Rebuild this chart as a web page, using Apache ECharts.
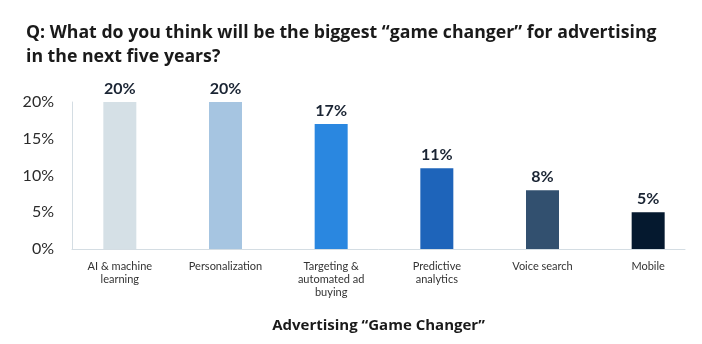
<!DOCTYPE html>
<html>
<head>
<meta charset="utf-8">
<script src="https://cdn.jsdelivr.net/npm/echarts@6/dist/echarts.min.js"></script>
<style>
  html, body { margin: 0; padding: 0; background: #fff; }
  #chart { width: 702px; height: 344px; }
</style>
</head>
<body>
<div id="chart"></div>
<script>
// Survey answers and their shares (percent)
const categories = [
  'AI & machine\nlearning',
  'Personalization',
  'Targeting &\nautomated ad\nbuying',
  'Predictive\nanalytics',
  'Voice search',
  'Mobile'
];
const shares = [20, 20, 17, 11, 8, 5];
const barColors = ['#d5e0e6', '#a6c5e1', '#2a87e0', '#1e64ba', '#32506f', '#05192f'];
const yTicks = [0, 5, 10, 15, 20];

const FONT = 'Lato, "Open Sans", sans-serif';
const WIDE = '"Open Sans", Lato, sans-serif';
const chart = echarts.init(document.getElementById('chart'), null, { renderer: 'canvas' });

chart.setOption({
  animation: false,
  title: {
    text: 'Q: What do you think will be the biggest \u201cgame changer\u201d for advertising\nin the next five years?',
    left: 21,
    top: 16,
    textStyle: { fontFamily: WIDE, fontSize: 17.7, fontWeight: 'bold', color: '#1a1a1a', lineHeight: 24 }
  },
  grid: [
    // grid for the bars
    { left: 67, right: 1, top: 102, bottom: 95 },
    // grid carrying the visible axes
    { left: 72, right: 17, top: 102, bottom: 95 }
  ],
  xAxis: [
    {
      type: 'category',
      gridIndex: 0,
      data: categories,
      axisLine: { show: false },
      axisTick: { show: false },
      axisLabel: {
        interval: 0,
        margin: 11,
        fontFamily: FONT,
        fontSize: 11,
        lineHeight: 13,
        color: '#333'
      }
    },
    {
      type: 'value',
      gridIndex: 1,
      min: 0, max: 1,
      axisLine: { show: true, lineStyle: { color: '#d4dde3', width: 1 } },
      axisTick: { show: false },
      axisLabel: { show: false },
      splitLine: { show: false },
      name: 'Advertising \u201cGame Changer\u201d',
      nameLocation: 'middle',
      nameGap: 69,
      nameTextStyle: { fontFamily: WIDE, fontSize: 15, fontWeight: 'bold', color: '#1a1a1a' }
    }
  ],
  yAxis: [
    {
      type: 'value',
      gridIndex: 0,
      min: yTicks[0], max: yTicks[yTicks.length - 1], interval: 5,
      show: false
    },
    {
      type: 'value',
      gridIndex: 1,
      min: yTicks[0], max: yTicks[yTicks.length - 1], interval: 5,
      axisLine: { show: true, lineStyle: { color: '#d4dde3', width: 1 } },
      axisTick: { show: false },
      splitLine: { show: false },
      axisLabel: {
        margin: 18,
        fontFamily: FONT,
        fontSize: 16,
        color: '#2b2b2b',
        formatter: v => v + '%'
      }
    }
  ],
  series: [
    {
      type: 'bar',
      xAxisIndex: 0,
      yAxisIndex: 0,
      barWidth: 33,
      data: shares.map((v, i) => ({ value: v, itemStyle: { color: barColors[i] } })),
      label: {
        show: true,
        position: 'top',
        distance: 5,
        fontFamily: FONT,
        fontSize: 16,
        fontWeight: 'bold',
        color: '#1a2433',
        formatter: p => p.value + '%'
      }
    }
  ]
});
</script>
</body>
</html>
